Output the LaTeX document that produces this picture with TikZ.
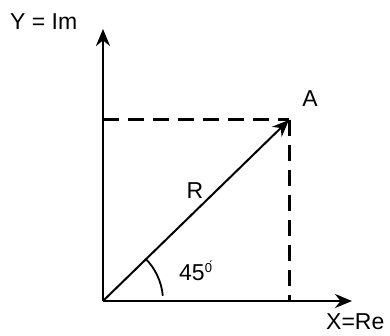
\documentclass[tikz,border=0pt]{standalone}
\usepackage{fontspec}
\setmainfont{Liberation Sans}
\usetikzlibrary{arrows.meta}

\begin{document}
\begin{tikzpicture}[x=1pt, y=-1pt, >={Stealth[length=17pt,width=14pt]},
  axis/.style={line width=2.6pt},
  guide/.style={line width=3pt, dash pattern=on 16pt off 9pt},
  lbl/.style={font=\fontsize{23}{26}\selectfont, inner sep=0pt}]
\useasboundingbox (0,0) rectangle (390,336);
% axes
\coordinate (O) at (103,301);
\coordinate (ytop) at (103,29);
\coordinate (xend) at (352,301);
\draw[axis,->] (O) -- (ytop);
\draw[axis,->] (O) -- (xend);
% projections
\coordinate (A) at (289,120);
\coordinate (Ay) at (103,120);
\coordinate (Ax) at (289,301);
\draw[guide] (Ay) -- (A);
\draw[guide] (A) -- (Ax);
% vector
\draw[line width=2pt,->] (O) -- (A);
\draw[line width=1.8pt] (O) ++(-45:60) arc[start angle=-45, end angle=-5, radius=60];
% labels
\node[lbl, anchor=west] (ylab) at (10,22) {Y\;=\;Im};
\node[lbl] (alab) at (310,99) {A};
\node[lbl] (rlab) at (195,191) {R};
\node[lbl, anchor=west] (ang) at (179,271) {45\raisebox{8pt}{\fontsize{13}{14}\selectfont\'0}};
\node[lbl, anchor=west] (xlab) at (326,322) {X=Re};
\end{tikzpicture}
\end{document}
